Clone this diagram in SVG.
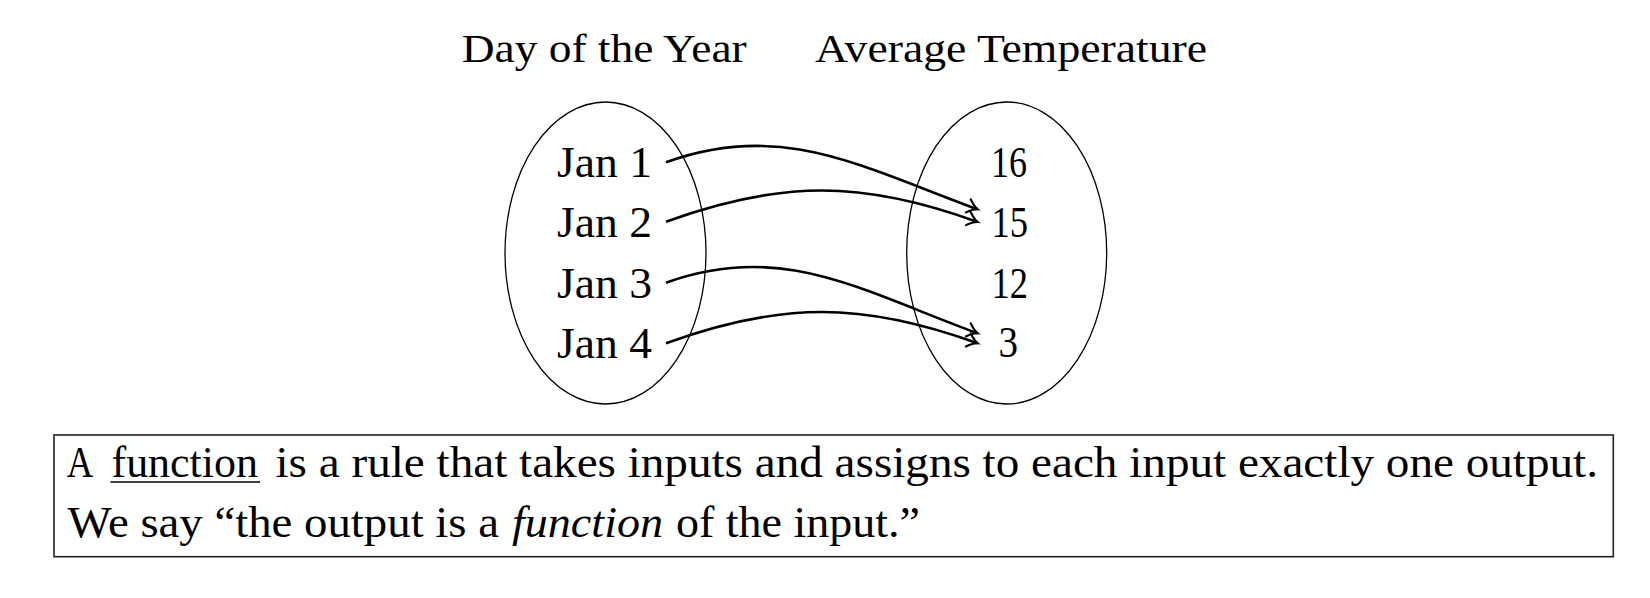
<svg xmlns="http://www.w3.org/2000/svg" width="1650" height="598" viewBox="0 0 1650 598">
<style>
text{font-family:"Liberation Serif","DejaVu Serif",serif;fill:#000}
.title{font-size:41px}
.lbl{font-size:44px}
.box{font-size:44px}
.set{fill:none;stroke:#000;stroke-width:1.3}
.conn{fill:none;stroke:#000;stroke-width:2.6;marker-end:url(#arr)}
</style>
<defs>
<marker id="arr" markerUnits="userSpaceOnUse" markerWidth="20" markerHeight="20" refX="0" refY="0" orient="auto" overflow="visible">
<path d="M-10,-7 C-6,-3 -2.5,-0.8 0,0 C-2.5,0.8 -6,3 -10,7" fill="none" stroke="#000" stroke-width="2.1" stroke-linecap="round"/>
</marker>
</defs>
<rect width="1650" height="598" fill="#fff"/>
<g id="title-domain"><text class="title" x="461.7" y="62" textLength="285" lengthAdjust="spacingAndGlyphs">Day of the Year</text></g>
<g id="title-range"><text class="title" x="815" y="62" textLength="392" lengthAdjust="spacingAndGlyphs">Average Temperature</text></g>
<g id="domain"><ellipse class="set" cx="605.5" cy="253" rx="100.5" ry="151"/></g>
<g id="range"><ellipse class="set" cx="1006.7" cy="253" rx="100" ry="151"/></g>
<g id="jan1"><text class="lbl" x="557" y="176.5" textLength="95" lengthAdjust="spacingAndGlyphs">Jan 1</text></g>
<g id="jan2"><text class="lbl" x="557" y="237.3" textLength="95" lengthAdjust="spacingAndGlyphs">Jan 2</text></g>
<g id="jan3"><text class="lbl" x="557" y="297.7" textLength="95" lengthAdjust="spacingAndGlyphs">Jan 3</text></g>
<g id="jan4"><text class="lbl" x="557" y="358.3" textLength="95" lengthAdjust="spacingAndGlyphs">Jan 4</text></g>
<g id="t16"><text class="lbl" x="991" y="176.7" textLength="36" lengthAdjust="spacingAndGlyphs">16</text></g>
<g id="t15"><text class="lbl" x="991.5" y="236.7" textLength="36.5" lengthAdjust="spacingAndGlyphs">15</text></g>
<g id="t12"><text class="lbl" x="991.5" y="297.5" textLength="36.5" lengthAdjust="spacingAndGlyphs">12</text></g>
<g id="t3"><text class="lbl" x="998.5" y="357.3" textLength="19.5" lengthAdjust="spacingAndGlyphs">3</text></g>
<g id="connectors">
<path class="conn" d="M666,162.3 C782,120 862,167 977.7,209.3"/>
<path class="conn" d="M666,221.7 C780.7,180 863,180 977.7,222"/>
<path class="conn" d="M666,282.7 C782,240.5 862,291 977.7,333.3"/>
<path class="conn" d="M666,343.3 C780.7,301.5 863,301.5 977.7,343.3"/>
</g>
<g id="definition">
<rect x="54" y="435" width="1559.3" height="121.7" fill="none" stroke="#222" stroke-width="1.6"/>
<text class="box" x="66.7" y="476.7" textLength="26.5" lengthAdjust="spacingAndGlyphs">A</text>
<text class="box" x="111.5" y="476.7" textLength="146.5" lengthAdjust="spacingAndGlyphs">function</text>
<line x1="110.5" y1="482" x2="260" y2="482" stroke="#000" stroke-width="1.6"/>
<text class="box" x="275.5" y="476.7" textLength="1322.5" lengthAdjust="spacingAndGlyphs">is a rule that takes inputs and assigns to each input exactly one output.</text>
<text class="box" x="67.5" y="537" textLength="431.5" lengthAdjust="spacingAndGlyphs">We say “the output is a</text>
<text class="box" x="512" y="537" textLength="151" lengthAdjust="spacingAndGlyphs" font-style="italic">function</text>
<text class="box" x="676" y="537" textLength="244" lengthAdjust="spacingAndGlyphs">of the input.”</text>
</g>
</svg>
